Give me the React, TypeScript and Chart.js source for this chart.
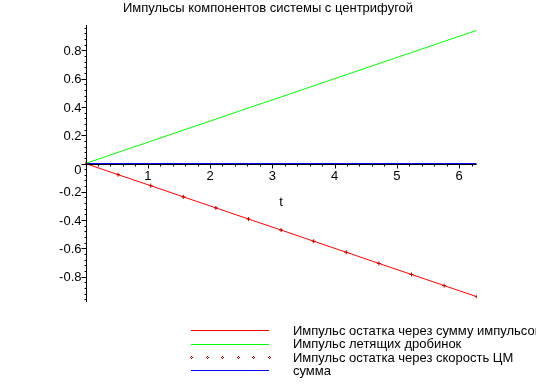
import React, { useEffect, useRef } from "react";
import { Chart, registerables } from "chart.js";

Chart.register(...registerables);

const TITLE = "Импульсы компонентов системы с центрифугой";
const X_LABEL = "t";
const T_VALUES = [0, 0.524, 1.047, 1.571, 2.094, 2.618, 3.142, 3.665, 4.189, 4.712, 5.236, 5.760, 6.283];
const REST_SUM = [0, -0.079, -0.157, -0.236, -0.314, -0.393, -0.471, -0.550, -0.628, -0.707, -0.785, -0.864, -0.942];
const SHOT = [0, 0.079, 0.157, 0.236, 0.314, 0.393, 0.471, 0.550, 0.628, 0.707, 0.785, 0.864, 0.942];
const REST_CM = [0, -0.079, -0.157, -0.236, -0.314, -0.393, -0.471, -0.550, -0.628, -0.707, -0.785, -0.864, -0.942];
const TOTAL = [0, 0, 0, 0, 0, 0, 0, 0, 0, 0, 0, 0, 0];
const X_TICKS = [1, 2, 3, 4, 5, 6];
const Y_TICKS = [-0.8, -0.6, -0.4, -0.2, 0, 0.2, 0.4, 0.6, 0.8];
const LEGEND_LABELS = [
  "Импульс остатка через сумму импульсов",
  "Импульс летящих дробинок",
  "Импульс остатка через скорость ЦМ",
  "сумма",
];

const FONT = '"Liberation Sans", Arial, sans-serif';

export default function App() {
  const ref = useRef<HTMLCanvasElement>(null);
  useEffect(() => {
    document.body.style.margin = "0";
    const canvas = ref.current!;
    const pts = (ys: number[]) => T_VALUES.map((t, i) => ({ x: t, y: ys[i] }));

    const axesPlugin = {
      id: "mapleAxes",
      afterDatasetsDraw(chart: any) {
        const ctx = chart.ctx as CanvasRenderingContext2D;
        const xs = chart.scales.x;
        const ys = chart.scales.y;
        const x0 = Math.round(xs.getPixelForValue(0)) + 0.5;
        const y0 = Math.round(ys.getPixelForValue(0)) + 0.5;
        ctx.save();
        ctx.strokeStyle = "#000";
        ctx.lineWidth = 1;
        ctx.beginPath();
        // y axis
        ctx.moveTo(x0, ys.top);
        ctx.lineTo(x0, ys.bottom);
        for (let k = -24; k <= 24; k++) {
          const py = Math.round(ys.getPixelForValue(k * 0.04)) + 0.5;
          const len = k % 5 === 0 ? 5 : 2;
          ctx.moveTo(x0 - len, py);
          ctx.lineTo(x0, py);
        }
        // x axis
        ctx.moveTo(x0, y0);
        ctx.lineTo(xs.right, y0);
        for (let k = 1; k <= 31; k++) {
          const px = Math.round(xs.getPixelForValue(k * 0.2)) + 0.5;
          const len = k % 5 === 0 ? 4 : 2;
          ctx.moveTo(px, y0);
          ctx.lineTo(px, y0 + len);
        }
        ctx.stroke();

        ctx.fillStyle = "#000";
        ctx.font = `13px ${FONT}`;
        ctx.textBaseline = "middle";
        ctx.textAlign = "right";
        Y_TICKS.forEach((v) => {
          const py = ys.getPixelForValue(v);
          const label = v === 0 ? "0" : v.toFixed(1);
          ctx.fillText(label, x0 - 5, v === 0 ? py + 7 : py + 1);
        });
        ctx.textAlign = "center";
        X_TICKS.forEach((v) => {
          ctx.fillText(String(v), xs.getPixelForValue(v), y0 + 12);
        });
        ctx.fillText(X_LABEL, (xs.left + xs.right) / 2, y0 + 38);

        // title
        ctx.font = `13px ${FONT}`;
        ctx.fillText(TITLE, 268, 8);

        // legend
        const lx1 = 191, lx2 = 269, tx = 293;
        const rows = [330, 343.5, 357, 370];
        const colors = ["#ff0000", "#00ff00", "#aa0000", "#0000ff"];
        rows.forEach((ry, i) => {
          const yy = Math.round(ry) + 0.5;
          if (i === 2) {
            ctx.fillStyle = colors[i];
            for (let j = 0; j < 6; j++) {
              const cx = Math.round(lx1 + j * 15.6);
              const cy = Math.round(ry);
              ctx.fillRect(cx, cy - 1, 1, 1);
              ctx.fillRect(cx - 1, cy, 1, 1);
              ctx.fillRect(cx + 1, cy, 1, 1);
              ctx.fillRect(cx, cy + 1, 1, 1);
            }
          } else {
            ctx.strokeStyle = colors[i];
            ctx.beginPath();
            ctx.moveTo(lx1, yy);
            ctx.lineTo(lx2, yy);
            ctx.stroke();
          }
          ctx.fillStyle = "#000";
          ctx.textAlign = "left";
          ctx.font = `13px ${FONT}`;
          ctx.fillText(LEGEND_LABELS[i], tx, ry + 1);
        });
        ctx.restore();
      },
    };

    const chart = new Chart(canvas, {
      type: "line",
      data: {
        datasets: [
          {
            label: LEGEND_LABELS[0],
            data: pts(REST_SUM),
            borderColor: "#ff0000",
            borderWidth: 1,
            pointRadius: 0,
            order: 2,
          },
          {
            label: LEGEND_LABELS[1],
            data: pts(SHOT),
            borderColor: "#00ff00",
            borderWidth: 1,
            pointRadius: 0,
            order: 3,
          },
          {
            label: LEGEND_LABELS[2],
            data: pts(REST_CM),
            showLine: false,
            pointStyle: "cross",
            pointRadius: 2,
            borderColor: "#bb0000",
            backgroundColor: "#bb0000",
            borderWidth: 1,
            order: 1,
          },
          {
            label: LEGEND_LABELS[3],
            data: pts(TOTAL),
            borderColor: "#0000ff",
            borderWidth: 1,
            pointRadius: 0,
            order: 4,
          },
        ],
      },
      options: {
        responsive: false,
        animation: false,
        layout: { padding: { left: 85.5, right: 59.3, top: 25, bottom: 84 } },
        plugins: { legend: { display: false }, title: { display: false }, tooltip: { enabled: false } },
        scales: {
          x: { type: "linear", min: 0, max: 6.283, display: false },
          y: { type: "linear", min: -0.98, max: 0.98, display: false },
        },
      },
      plugins: [axesPlugin],
    });
    return () => chart.destroy();
  }, []);
  return <canvas ref={ref} width={536} height={386} style={{ display: "block" }} />;
}
